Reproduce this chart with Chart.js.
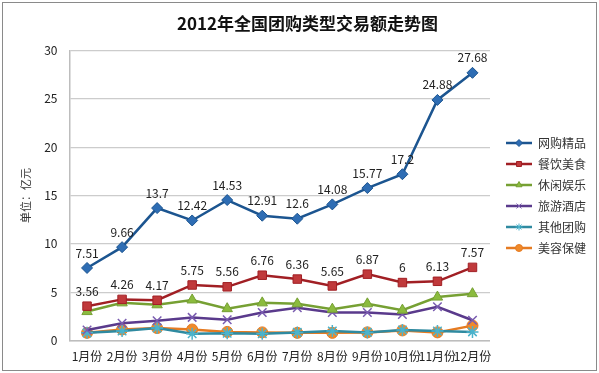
<!DOCTYPE html>
<html>
<head>
<meta charset="utf-8">
<script src="https://cdn.jsdelivr.net/npm/chart.js@4"></script>
<style>
  html, body { margin: 0; padding: 0; background: #fff; }
  #wrap { width: 599px; height: 373px; position: relative; }
</style>
</head>
<body>
<div id="wrap"><canvas id="trend-chart" width="599" height="373"></canvas></div>
<script>
// chart data
const months = ['1月份', '2月份', '3月份', '4月份', '5月份', '6月份', '7月份', '8月份', '9月份', '10月份', '11月份', '12月份'];
const seriesNames = ['网购精品', '餐饮美食', '休闲娱乐', '旅游酒店', '其他团购', '美容保健'];
const onlineShopping = [7.51, 9.66, 13.7, 12.42, 14.53, 12.91, 12.6, 14.08, 15.77, 17.2, 24.88, 27.68];
const foodDining = [3.56, 4.26, 4.17, 5.75, 5.56, 6.76, 6.36, 5.65, 6.87, 6, 6.13, 7.57];
const leisure = [3.0, 3.9, 3.7, 4.2, 3.3, 3.9, 3.8, 3.25, 3.8, 3.15, 4.5, 4.85];
const travelHotel = [1.1, 1.8, 2.05, 2.4, 2.15, 2.9, 3.4, 2.9, 2.9, 2.7, 3.5, 2.1];
const otherGroup = [0.8, 1.0, 1.3, 0.7, 0.75, 0.7, 0.85, 1.0, 0.85, 1.1, 1.0, 0.9];
const beautyHealth = [0.8, 1.15, 1.3, 1.15, 0.9, 0.85, 0.8, 0.8, 0.85, 1.05, 0.85, 1.55];
const yTicks = [0, 5, 10, 15, 20, 25, 30];

document.addEventListener('DOMContentLoaded', function() {
    const font = '"Noto Sans CJK SC", "Noto Sans", sans-serif';
    const canvas = document.getElementById('trend-chart');

    function makeSeries(label, data, line, fill, style, radius) {
        const thin = style === 'crossRot' || style === 'star';
        return {
            label: label,
            data: data,
            borderColor: line,
            backgroundColor: fill,
            pointBackgroundColor: fill,
            pointBorderColor: thin ? fill : line,
            pointStyle: style,
            pointRadius: radius,
            pointBorderWidth: thin ? 1.5 : 1,
            borderWidth: 2.5,
            tension: 0
        };
    }

    const datasets = [
        makeSeries(seriesNames[0], onlineShopping, '#1c5590', '#2e6db4', 'rectRot', 5.5),
        makeSeries(seriesNames[1], foodDining, '#a11f24', '#c0393b', 'rect', 6),
        makeSeries(seriesNames[2], leisure, '#76a033', '#8bbb3e', 'triangle', 6),
        makeSeries(seriesNames[3], travelHotel, '#5a3a8c', '#7a5cb0', 'crossRot', 6),
        makeSeries(seriesNames[4], otherGroup, '#2f8aa0', '#4bb3cc', 'star', 6),
        makeSeries(seriesNames[5], beautyHealth, '#e57b22', '#f08a2a', 'circle', 5.5)
    ];

    // legend sample: short line with the marker in the middle, blank gap on the left
    function legendSample(ds) {
        const c = document.createElement('canvas');
        c.width = 33;
        c.height = 12;
        const g = c.getContext('2d');
        g.strokeStyle = ds.borderColor;
        g.lineWidth = 2.5;
        g.beginPath();
        g.moveTo(7, 6);
        g.lineTo(33, 6);
        g.stroke();
        g.fillStyle = ds.pointBackgroundColor;
        g.strokeStyle = ds.pointBorderColor;
        g.lineWidth = 1;
        Chart.helpers.drawPoint(g, { pointStyle: ds.pointStyle, radius: 3.5, borderWidth: 1, rotation: 0 }, 20, 6);
        return c;
    }

    // number labels above the first two series
    const valueLabels = {
        id: 'valueLabels',
        afterDatasetsDraw(chart) {
            const ctx = chart.ctx;
            ctx.save();
            ctx.font = '12px ' + font;
            ctx.fillStyle = '#222';
            ctx.textAlign = 'center';
            ctx.textBaseline = 'middle';
            [0, 1].forEach(function(i) {
                const meta = chart.getDatasetMeta(i);
                meta.data.forEach(function(pt, j) {
                    ctx.fillText(String(chart.data.datasets[i].data[j]), pt.x, pt.y - 15);
                });
            });
            ctx.restore();
        }
    };

    // white background and outer frame
    const frame = {
        id: 'frame',
        beforeDraw(chart) {
            const ctx = chart.ctx;
            ctx.save();
            ctx.fillStyle = '#fff';
            ctx.fillRect(0, 0, chart.width, chart.height);
            ctx.restore();
        },
        afterDraw(chart) {
            const ctx = chart.ctx;
            ctx.save();
            ctx.strokeStyle = '#8a8a8a';
            ctx.lineWidth = 1;
            ctx.strokeRect(2.5, 2.5, chart.width - 5, chart.height - 5);
            ctx.restore();
        }
    };

    new Chart(canvas.getContext('2d'), {
        type: 'line',
        data: { labels: months, datasets: datasets },
        options: {
            responsive: false,
            animation: false,
            layout: { padding: { left: 19, right: 3, top: 6, bottom: 0 } },
            plugins: {
                title: {
                    display: true,
                    text: '2012年全国团购类型交易额走势图',
                    color: '#111',
                    font: { family: font, size: 17, weight: 'bold' },
                    padding: { top: 7, bottom: 17 }
                },
                legend: {
                    position: 'right',
                    fullSize: false,
                    labels: {
                        color: '#333',
                        font: { family: font, size: 12 },
                        usePointStyle: true,
                        pointStyleWidth: 33,
                        padding: 9,
                        generateLabels: function(chart) {
                            return chart.data.datasets.map(function(ds, i) {
                                return {
                                    text: ds.label,
                                    datasetIndex: i,
                                    pointStyle: legendSample(ds),
                                    fillStyle: ds.borderColor,
                                    strokeStyle: ds.borderColor,
                                    lineWidth: 0,
                                    fontColor: '#333'
                                };
                            });
                        }
                    }
                },
                tooltip: { enabled: false }
            },
            scales: {
                x: {
                    offset: true,
                    grid: { display: false, drawTicks: false },
                    border: { color: '#bdbdbd', width: 1.5 },
                    ticks: { color: '#222', font: { family: font, size: 12 }, padding: 9, maxRotation: 0, autoSkip: false }
                },
                y: {
                    min: yTicks[0],
                    max: yTicks[yTicks.length - 1],
                    afterBuildTicks: function(axis) {
                        axis.ticks = yTicks.map(function(v) { return { value: v }; });
                    },
                    grid: { color: '#cccccc', lineWidth: 1.2, drawTicks: false },
                    border: { color: '#bdbdbd', width: 1.5 },
                    ticks: { color: '#222', font: { family: font, size: 12 }, padding: 12 },
                    title: {
                        display: true,
                        text: '单位：亿元',
                        color: '#333',
                        font: { family: font, size: 11 },
                        padding: 0
                    }
                }
            }
        },
        plugins: [valueLabels, frame]
    });
});
</script>
</body>
</html>
